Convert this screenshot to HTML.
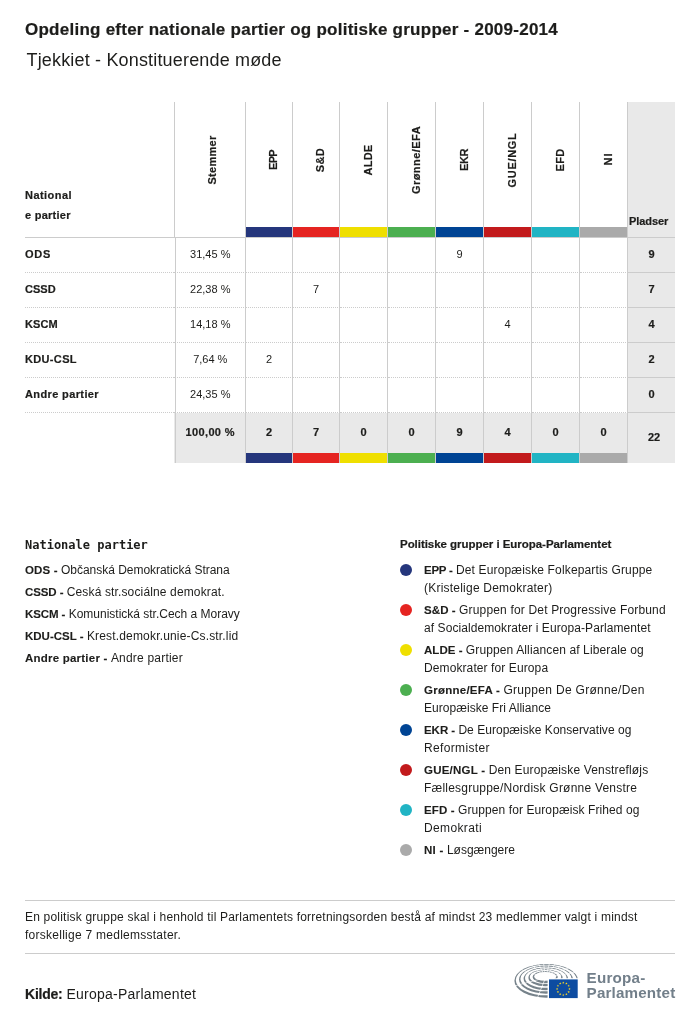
<!DOCTYPE html>
<html lang="da">
<head>
<meta charset="utf-8">
<title>Opdeling efter nationale partier og politiske grupper - 2009-2014</title>
<style>
*{box-sizing:border-box;margin:0;padding:0}
html,body{width:700px;height:1019px;background:#fff;overflow:hidden}
body{font-family:"Liberation Sans",sans-serif;color:#1d1d1b;position:relative}
h1{position:absolute;left:25px;top:20px;font-size:17px;line-height:20px;font-weight:bold;white-space:nowrap}
h2{position:absolute;left:26.5px;top:49px;font-size:18px;line-height:22px;font-weight:normal;white-space:nowrap}

/* table */
table{position:absolute;left:25px;top:102px;width:650px;border-collapse:separate;border-spacing:0;table-layout:fixed;font-size:11px}
th,td{padding:0;text-align:center;vertical-align:middle;font-weight:normal;position:relative}
thead th{height:136px;border-bottom:1px solid #ccc;border-right:1px solid #ccc;font-weight:bold}
thead th.c0{text-align:left;vertical-align:bottom;line-height:20px;padding-bottom:12px;border-right:0}
thead th.c1{border-left:1px solid #ccc}
thead th.pl{background:#e9e9e9;border-right:0;vertical-align:bottom;text-align:left;padding:0 0 9px 1px;line-height:14px}
thead th .rot{position:absolute;left:50%;top:58px;width:0;height:0;margin-left:4px}
thead th.c1 .rot{margin-left:1.5px}
thead th .rot span{position:absolute;left:0;top:0;white-space:nowrap;line-height:12px;transform:translate(-50%,-50%) rotate(-90deg);display:block;-webkit-text-stroke:.2px #1d1d1b}
thead th .rot #r_ni{top:-.9px}
thead th i{position:absolute;left:0;right:0;bottom:0;height:10px}
tbody td,tbody th{height:35px;padding-bottom:2px}
tbody td{border-bottom:1px dotted #ccc;border-right:1px solid #ccc}
tbody th{border-bottom:1px dotted #ccc;text-align:left;font-weight:bold}
tbody td.c1{background:linear-gradient(#ccc,#ccc) 1px 0/1px 100% no-repeat;padding-left:1.5px}
tbody td.pl{background:#e9e9e9;border-right:0;border-bottom:1px solid #ccc;font-weight:bold}
tfoot td{height:50px;background:#e9e9e9;border-right:1px solid #ccc;font-weight:bold;padding-bottom:13px}
tfoot td.c0{background:none;border:0}
tfoot td.c1{background:linear-gradient(#ccc,#ccc) 1px 0/1px 100% no-repeat #e9e9e9;padding-left:1.5px;letter-spacing:.35px}
tfoot td.pl{border-right:0;padding-bottom:2px;padding-left:5px}
tfoot td i{position:absolute;left:0;right:0;bottom:0;height:10px}
.epp{background:#25367c}.sd{background:#e52421}.alde{background:#efdf00}.gr{background:#4caf50}
.ekr{background:#004494}.gue{background:#c21a1c}.efd{background:#21b4c4}.ni{background:#aaa}

/* legends */
.leg{position:absolute;font-size:12px;line-height:18px}
.leg h3{font-size:12px;line-height:18px;white-space:nowrap}
.leg li{white-space:nowrap}
#lp{left:25px;top:535px;width:330px}
#lp h3{font-family:"DejaVu Sans Mono","Liberation Mono",monospace;font-weight:bold;position:relative;top:1px}
#lp ul{list-style:none;margin-top:6px}
#lp li{height:22px;line-height:22px}
#lg{left:400px;top:535px;width:275px}
#lg h3{font-size:11.5px}
#lg ul{list-style:none;margin-top:8px}
#lg li{position:relative;padding-left:24px;margin-bottom:4px;line-height:18px}
#lg li i{position:absolute;left:0;top:3px;width:12px;height:12px;border-radius:50%}

/* footer */
#note{position:absolute;left:25px;top:900px;width:650px;height:54px;border-top:1px solid #ccc;border-bottom:1px solid #ccc;font-size:12px;line-height:18px;padding-top:7px;white-space:nowrap}
#src{position:absolute;left:25px;top:984px;font-size:14px;line-height:20px;white-space:nowrap}
#logo{position:absolute;left:512px;top:960px;width:188px;height:48px}
#logo svg{display:block}
h1,tbody th,thead th.c0,thead th.pl,tbody td.pl,tfoot td,#lg h3,#src b{-webkit-text-stroke:.2px #1d1d1b}
.leg b{-webkit-text-stroke:.1px #1d1d1b}
.leg b{font-size:11.5px}
</style>
</head>
<body>
<h1 id="t1" style="letter-spacing:0.25px">Opdeling efter nationale partier og politiske grupper - 2009-2014</h1>
<h2 id="t2" style="letter-spacing:0.17px">Tjekkiet - Konstituerende møde</h2>

<table>
<colgroup><col style="width:149px"><col style="width:72px"><col style="width:47px"><col style="width:47px"><col style="width:48px"><col style="width:48px"><col style="width:48px"><col style="width:48px"><col style="width:48px"><col style="width:48px"><col style="width:47px"></colgroup>
<thead>
<tr>
<th class="c0"><span id="hn1" style="letter-spacing:0.45px">National</span><br><span id="hn2" style="letter-spacing:0.26px">e partier</span></th>
<th class="c1"><div class="rot"><span id="r_st" style="letter-spacing:0.27px">Stemmer</span></div></th>
<th><div class="rot"><span id="r_epp" style="letter-spacing:-0.60px">EPP</span></div><i class="epp"></i></th>
<th><div class="rot"><span id="r_sd" style="letter-spacing:0.35px">S&amp;D</span></div><i class="sd"></i></th>
<th><div class="rot"><span id="r_alde" style="letter-spacing:0.24px">ALDE</span></div><i class="alde"></i></th>
<th><div class="rot"><span id="r_gr" style="letter-spacing:0.46px">Grønne/EFA</span></div><i class="gr"></i></th>
<th><div class="rot"><span id="r_ekr" style="letter-spacing:-0.45px">EKR</span></div><i class="ekr"></i></th>
<th><div class="rot"><span id="r_gue" style="letter-spacing:0.67px">GUE/NGL</span></div><i class="gue"></i></th>
<th><div class="rot"><span id="r_efd" style="letter-spacing:0.30px">EFD</span></div><i class="efd"></i></th>
<th><div class="rot"><span id="r_ni" style="letter-spacing:0.90px">NI</span></div><i class="ni"></i></th>
<th class="pl"><span id="hpl" style="letter-spacing:-0.06px">Pladser</span></th>
</tr>
</thead>
<tbody>
<tr><th><span id="p0" style="letter-spacing:0.70px">ODS</span></th><td class="c1">31,45 %</td><td></td><td></td><td></td><td></td><td>9</td><td></td><td></td><td></td><td class="pl">9</td></tr>
<tr><th><span id="p1" style="letter-spacing:0.04px">CSSD</span></th><td class="c1">22,38 %</td><td></td><td>7</td><td></td><td></td><td></td><td></td><td></td><td></td><td class="pl">7</td></tr>
<tr><th><span id="p2" style="letter-spacing:0.11px">KSCM</span></th><td class="c1">14,18 %</td><td></td><td></td><td></td><td></td><td></td><td>4</td><td></td><td></td><td class="pl">4</td></tr>
<tr><th><span id="p3" style="letter-spacing:0.34px">KDU-CSL</span></th><td class="c1">7,64 %</td><td>2</td><td></td><td></td><td></td><td></td><td></td><td></td><td></td><td class="pl">2</td></tr>
<tr><th><span id="p4" style="letter-spacing:0.38px">Andre partier</span></th><td class="c1">24,35 %</td><td></td><td></td><td></td><td></td><td></td><td></td><td></td><td></td><td class="pl">0</td></tr>
</tbody>
<tfoot>
<tr><td class="c0"></td><td class="c1"><span id="tot">100,00 %</span></td><td>2<i class="epp"></i></td><td>7<i class="sd"></i></td><td>0<i class="alde"></i></td><td>0<i class="gr"></i></td><td>9<i class="ekr"></i></td><td>4<i class="gue"></i></td><td>0<i class="efd"></i></td><td>0<i class="ni"></i></td><td class="pl">22</td></tr>
</tfoot>
</table>

<section class="leg" id="lp">
<h3>Nationale partier</h3>
<ul>
<li><b id="lpb0" style="letter-spacing:0.15px">ODS -</b> <span id="lps0" style="letter-spacing:-0.03px">Občanská Demokratická Strana</span></li>
<li><b id="lpb1" style="letter-spacing:-0.10px">CSSD -</b> <span id="lps1" style="letter-spacing:0.14px">Ceská str.sociálne demokrat.</span></li>
<li><b id="lpb2" style="letter-spacing:-0.09px">KSCM -</b> <span id="lps2" style="letter-spacing:-0.01px">Komunistická str.Cech a Moravy</span></li>
<li><b id="lpb3">KDU-CSL -</b> <span id="lps3" style="letter-spacing:0.17px">Krest.demokr.unie-Cs.str.lid</span></li>
<li><b id="lpb4" style="letter-spacing:0.22px">Andre partier -</b> <span id="lps4" style="letter-spacing:0.20px">Andre partier</span></li>
</ul>
</section>

<section class="leg" id="lg">
<h3><span id="lgh" style="letter-spacing:-0.04px">Politiske grupper i Europa-Parlamentet</span></h3>
<ul>
<li><i class="epp"></i><b id="gb_epp" style="letter-spacing:-0.24px">EPP -</b> <span id="ga_epp" style="letter-spacing:0.15px">Det Europæiske Folkepartis Gruppe</span><br><span id="gc_epp" style="letter-spacing:0.22px">(Kristelige Demokrater)</span></li>
<li><i class="sd"></i><b id="gb_sd" style="letter-spacing:0.08px">S&amp;D -</b> <span id="ga_sd" style="letter-spacing:0.17px">Gruppen for Det Progressive Forbund</span><br><span id="gc_sd" style="letter-spacing:0.08px">af Socialdemokrater i Europa-Parlamentet</span></li>
<li><i class="alde"></i><b id="gb_alde" style="letter-spacing:0.03px">ALDE -</b> <span id="ga_alde" style="letter-spacing:0.12px">Gruppen Alliancen af Liberale og</span><br><span id="gc_alde" style="letter-spacing:0.10px">Demokrater for Europa</span></li>
<li><i class="gr"></i><b id="gb_gr" style="letter-spacing:0.25px">Grønne/EFA -</b> <span id="ga_gr" style="letter-spacing:0.31px">Gruppen De Grønne/Den</span><br><span id="gc_gr" style="letter-spacing:0.04px">Europæiske Fri Alliance</span></li>
<li><i class="ekr"></i><b id="gb_ekr" style="letter-spacing:-0.05px">EKR -</b> <span id="ga_ekr" style="letter-spacing:0.03px">De Europæiske Konservative og</span><br><span id="gc_ekr" style="letter-spacing:0.34px">Reformister</span></li>
<li><i class="gue"></i><b id="gb_gue" style="letter-spacing:0.23px">GUE/NGL -</b> <span id="ga_gue" style="letter-spacing:0.16px">Den Europæiske Venstrefløjs</span><br><span id="gc_gue" style="letter-spacing:0.22px">Fællesgruppe/Nordisk Grønne Venstre</span></li>
<li><i class="efd"></i><b id="gb_efd" style="letter-spacing:0.12px">EFD -</b> <span id="ga_efd" style="letter-spacing:0.09px">Gruppen for Europæisk Frihed og</span><br><span id="gc_efd" style="letter-spacing:0.36px">Demokrati</span></li>
<li><i class="ni"></i><b id="gb_ni" style="letter-spacing:0.27px">NI -</b> <span id="ga_ni" style="letter-spacing:-0.01px">Løsgængere</span></li>
</ul>
</section>

<p id="note"><span id="n1" style="letter-spacing:0.20px">En politisk gruppe skal i henhold til Parlamentets forretningsorden bestå af mindst 23 medlemmer valgt i mindst</span><br><span id="n2" style="letter-spacing:0.26px">forskellige 7 medlemsstater.</span></p>
<p id="src"><b id="srcb" style="letter-spacing:-0.23px">Kilde:</b> <span id="srcs" style="letter-spacing:0.25px">Europa-Parlamentet</span></p>

<div id="logo">
<svg width="188" height="48" viewBox="0 0 188 48" role="img" aria-label="Europa-Parlamentet">
<path d="M2.40 20.77A31.90 16.88 0 1 1 66.20 20.77A31.90 16.88 0 1 1 2.40 20.77ZM3.80 20.02A30.50 15.33 0 1 0 64.80 20.02A30.50 15.33 0 1 0 3.80 20.02ZM7.00 19.62A27.00 14.02 0 1 1 61.00 19.62A27.00 14.02 0 1 1 7.00 19.62ZM8.40 18.88A25.60 12.48 0 1 0 59.60 18.88A25.60 12.48 0 1 0 8.40 18.88ZM11.60 18.77A22.20 11.38 0 1 1 56.00 18.77A22.20 11.38 0 1 1 11.60 18.77ZM13.00 18.02A20.80 9.83 0 1 0 54.60 18.02A20.80 9.83 0 1 0 13.00 18.02ZM16.40 17.77A17.10 8.57 0 1 1 50.60 17.77A17.10 8.57 0 1 1 16.40 17.77ZM17.80 17.02A15.70 7.03 0 1 0 49.20 17.02A15.70 7.03 0 1 0 17.80 17.02ZM20.70 17.12A12.50 6.02 0 1 1 45.70 17.12A12.50 6.02 0 1 1 20.70 17.12ZM22.10 16.38A11.10 4.48 0 1 0 44.30 16.38A11.10 4.48 0 1 0 22.10 16.38Z" fill="#76828a" fill-rule="evenodd"/>
<path d="M33.6 17.6L18.6 54.7M33.6 17.6L-5.0 28.0M33.6 17.6L-4.4 5.2M33.6 17.6L3.9 -9.2M33.6 17.6L15.4 -18.0M33.6 17.6L28.0 -22.0M33.6 17.6L44.0 -21.0M33.6 17.6L56.5 -15.2M33.6 17.6L65.1 -7.0M33.6 17.6L70.4 2.0M33.6 17.6L73.0 10.7" stroke="#fff" stroke-width=".7" fill="none"/>
<rect x="35.6" y="18.2" width="31.3" height="21.2" fill="#fff"/>
<rect x="37" y="19.4" width="28.7" height="18.7" fill="#0d4ca1"/>
<g fill="#ffd920"><polygon points="51.30,21.45 51.61,22.28 52.49,22.31 51.80,22.86 52.03,23.71 51.30,23.22 50.57,23.71 50.80,22.86 50.11,22.31 50.99,22.28"/><polygon points="54.40,22.28 54.71,23.11 55.59,23.14 54.90,23.69 55.13,24.54 54.40,24.06 53.67,24.54 53.90,23.69 53.21,23.14 54.09,23.11"/><polygon points="56.67,24.55 56.98,25.38 57.86,25.41 57.17,25.96 57.40,26.81 56.67,26.32 55.93,26.81 56.17,25.96 55.48,25.41 56.36,25.38"/><polygon points="57.50,27.65 57.81,28.48 58.69,28.51 58.00,29.06 58.23,29.91 57.50,29.42 56.77,29.91 57.00,29.06 56.31,28.51 57.19,28.48"/><polygon points="56.67,30.75 56.98,31.58 57.86,31.61 57.17,32.16 57.40,33.01 56.67,32.52 55.93,33.01 56.17,32.16 55.48,31.61 56.36,31.58"/><polygon points="54.40,33.02 54.71,33.84 55.59,33.88 54.90,34.43 55.13,35.28 54.40,34.79 53.67,35.28 53.90,34.43 53.21,33.88 54.09,33.84"/><polygon points="51.30,33.85 51.61,34.68 52.49,34.71 51.80,35.26 52.03,36.11 51.30,35.62 50.57,36.11 50.80,35.26 50.11,34.71 50.99,34.68"/><polygon points="48.20,33.02 48.51,33.84 49.39,33.88 48.70,34.43 48.93,35.28 48.20,34.79 47.47,35.28 47.70,34.43 47.01,33.88 47.89,33.84"/><polygon points="45.93,30.75 46.24,31.58 47.12,31.61 46.43,32.16 46.67,33.01 45.93,32.52 45.20,33.01 45.43,32.16 44.74,31.61 45.62,31.58"/><polygon points="45.10,27.65 45.41,28.48 46.29,28.51 45.60,29.06 45.83,29.91 45.10,29.42 44.37,29.91 44.60,29.06 43.91,28.51 44.79,28.48"/><polygon points="45.93,24.55 46.24,25.38 47.12,25.41 46.43,25.96 46.67,26.81 45.93,26.32 45.20,26.81 45.43,25.96 44.74,25.41 45.62,25.38"/><polygon points="48.20,22.28 48.51,23.11 49.39,23.14 48.70,23.69 48.93,24.54 48.20,24.06 47.47,24.54 47.70,23.69 47.01,23.14 47.89,23.11"/></g>
<text x="74.6" y="23.4" font-family="Liberation Sans, sans-serif" font-weight="bold" font-size="15.2" fill="#727f8a" textLength="58.6" lengthAdjust="spacing">Europa-</text>
<text x="74.6" y="37.8" font-family="Liberation Sans, sans-serif" font-weight="bold" font-size="15.2" fill="#727f8a" textLength="88.6" lengthAdjust="spacing">Parlamentet</text>
</svg>
</div>
</body>
</html>
